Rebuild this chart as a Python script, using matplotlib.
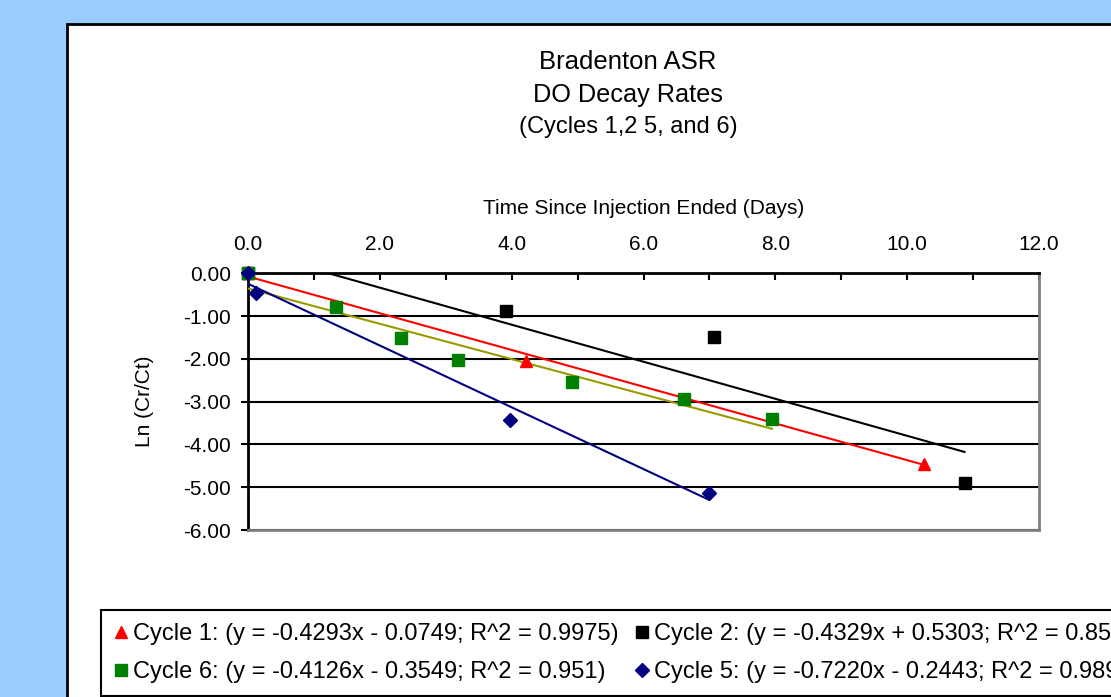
import numpy as np
import matplotlib
matplotlib.use('Agg')
import matplotlib.pyplot as plt
from matplotlib.patches import Rectangle
from matplotlib.ticker import MultipleLocator, FormatStrFormatter

plt.rcParams['font.family'] = ['Liberation Sans', 'DejaVu Sans']
plt.rcParams['axes.unicode_minus'] = False

# points: days since injection ended vs Ln(Cr/Ct)
cycle1_days = [0.0, 4.21, 10.26]
cycle1_ln = [0.0, -2.04, -4.46]
cycle2_days = [0.0, 3.91, 7.07, 10.87]
cycle2_ln = [0.0, -0.88, -1.48, -4.91]
cycle6_days = [0.0, 1.33, 2.32, 3.19, 4.91, 6.62, 7.95]
cycle6_ln = [0.0, -0.79, -1.52, -2.03, -2.53, -2.94, -3.40]
cycle5_days = [0.0, 0.12, 3.98, 6.99]
cycle5_ln = [0.0, -0.47, -3.44, -5.14]

# linear trendlines, as printed in the legend
series_names = ['Cycle 1', 'Cycle 2', 'Cycle 6', 'Cycle 5']
slopes = [-0.4293, -0.4329, -0.4126, -0.7220]
intercepts = [-0.0749, 0.5303, -0.3549, -0.2443]
r_squared = ['0.9975', '0.8553', '0.951', '0.9893']

title_lines = ['Bradenton ASR', 'DO Decay Rates', '(Cycles 1,2 5, and 6)']

all_days = [cycle1_days, cycle2_days, cycle6_days, cycle5_days]
all_ln = [cycle1_ln, cycle2_ln, cycle6_ln, cycle5_ln]
markers = ['^', 's', 's', 'D']
msizes = [9, 8, 8, 7.5]
marker_colors = ['#FF0000', '#000000', '#008000', '#000080']
line_colors = ['#FF0000', '#000000', '#999900', '#000080']

fig = plt.figure(figsize=(11.11, 6.97), dpi=100, facecolor='#99CCFF')

# white chart panel (runs off the right and bottom edge like the screenshot)
fig.add_artist(Rectangle((67 / 1111, -0.2), 1.2, 1 - 24 / 697 + 0.2,
                         transform=fig.transFigure, facecolor='white',
                         edgecolor='black', linewidth=2, zorder=-1))

ax = fig.add_axes([248 / 1111, 1 - 530 / 697, 791 / 1111, 256.7 / 697])

handles = []
for i in range(4):
    x = np.array(all_days[i])
    xs = np.array([0.0, x.max()])
    ax.plot(xs, slopes[i] * xs + intercepts[i], color=line_colors[i],
            lw=1.5, zorder=3)
for i in range(4):
    h, = ax.plot(all_days[i], all_ln[i], linestyle='none', marker=markers[i],
                 ms=msizes[i], color=marker_colors[i], mec=marker_colors[i],
                 clip_on=False, zorder=4)
    handles.append(h)

labels = []
for i in range(4):
    sign = '-' if intercepts[i] < 0 else '+'
    labels.append(f'{series_names[i]}: (y = {slopes[i]:.4f}x {sign} '
                  f'{abs(intercepts[i]):.4f}; R^2 = {r_squared[i]})')

ax.set_xlim(0, 12)
ax.set_ylim(-6, 0)
ax.xaxis.tick_top()
ax.xaxis.set_label_position('top')
ax.xaxis.set_major_locator(MultipleLocator(2))
ax.xaxis.set_minor_locator(MultipleLocator(1))
ax.xaxis.set_major_formatter(FormatStrFormatter('%.1f'))
ax.yaxis.set_major_locator(MultipleLocator(1))
ax.yaxis.set_major_formatter(FormatStrFormatter('%.2f'))
ax.tick_params(axis='x', which='both', direction='in', length=5, width=1.5,
               labelsize=15, pad=14)
ax.tick_params(axis='y', direction='out', length=5, width=1.5,
               labelsize=15, pad=7.5)
ax.yaxis.grid(True, color='black', lw=1.5)

for side in ['top', 'left']:
    ax.spines[side].set_color('black')
    ax.spines[side].set_linewidth(2)
for side in ['right', 'bottom']:
    ax.spines[side].set_color('#808080')
    ax.spines[side].set_linewidth(2)

ax.set_xlabel('Time Since Injection Ended (Days)', fontsize=15)
ax.xaxis.label.set_va('center')
ax.xaxis.set_label_coords(0.5, (530 - 208) / 256.7)
ax.set_ylabel('Ln (Cr/Ct)', fontsize=15)
ax.yaxis.label.set_va('center')
ax.yaxis.set_label_coords(-(248 - 145) / 791, 0.5)

title_y = [61.7, 95, 126.5]
title_sizes = [18.5, 18.2, 17]
for line, ty, fs in zip(title_lines, title_y, title_sizes):
    fig.text(628 / 1111, 1 - ty / 697, line, fontsize=fs,
             ha='center', va='center')

# legend reads row-wise: Cycle 1, Cycle 2 / Cycle 6, Cycle 5
order = [0, 2, 1, 3]
leg = fig.legend([handles[k] for k in order], [labels[k] for k in order],
                 loc='upper left', bbox_to_anchor=(101 / 1111, 1 - 610 / 697),
                 bbox_transform=fig.transFigure, ncol=2, fontsize=17,
                 frameon=True, fancybox=False, edgecolor='black', framealpha=1,
                 borderpad=0.55, handlelength=0.61, handletextpad=0.2,
                 columnspacing=0.67, labelspacing=0.68, borderaxespad=0)
leg.get_frame().set_linewidth(1.5)

fig.savefig('out.png', dpi=100, facecolor=fig.get_facecolor())
